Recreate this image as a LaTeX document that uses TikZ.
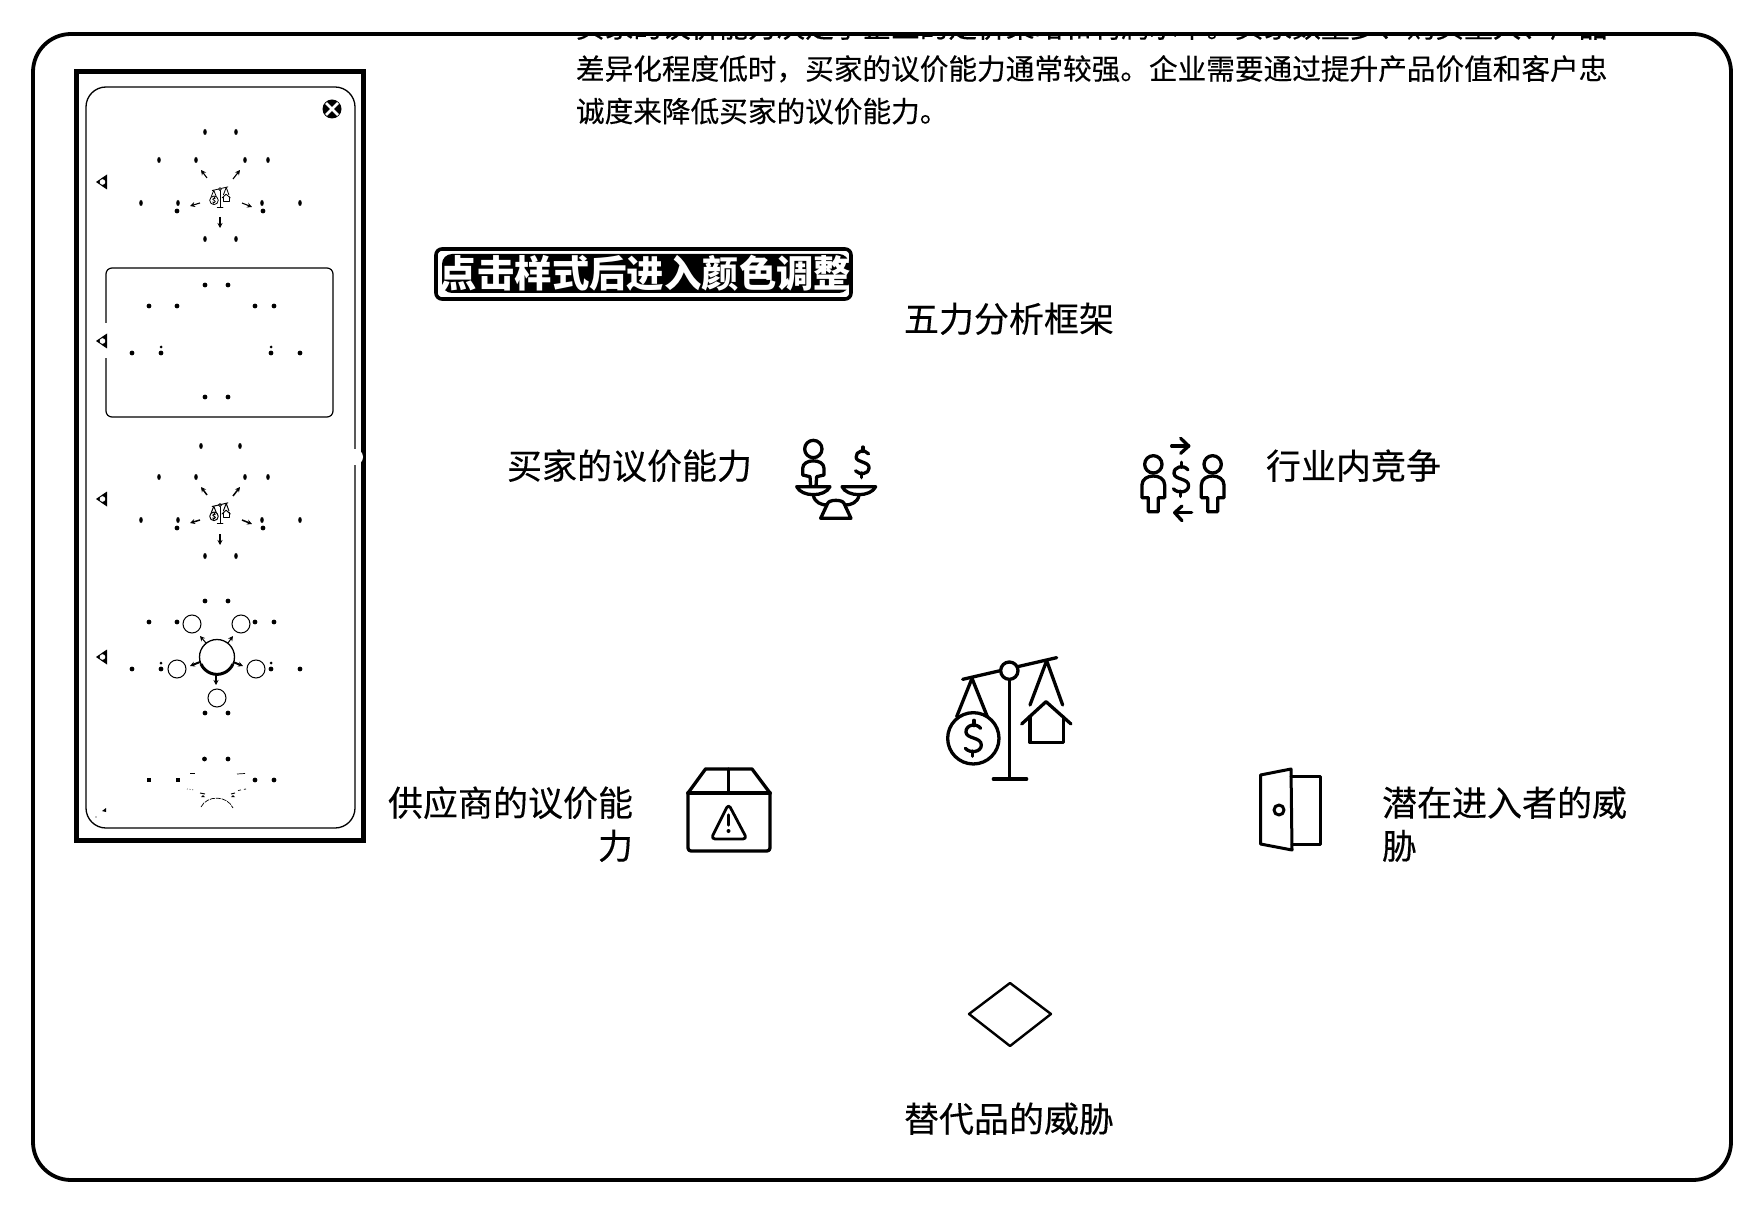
\documentclass[tikz,border=0pt]{standalone}
\usepackage{fontspec}
\setmainfont{Noto Sans CJK SC}[FakeBold=0.25]
\newfontfamily\tagfont{Noto Sans CJK SC}
\usetikzlibrary{arrows.meta}
\tikzset{
  lab/.style={inner sep=0pt,outer sep=0pt,font=\fontsize{35}{42}\selectfont},
  body/.style={inner sep=0pt,outer sep=0pt,font=\fontsize{28.65}{34}\selectfont},
  icon/.style={line width=3.3pt,line cap=round,line join=round},
  parr/.style={-{Stealth[length=5pt,width=5pt]},line width=1.1pt},
}
% balance icon in the coordinates of its large drawing
\newcommand{\dollarat}[3]{%
  \begin{scope}[shift={(#1,#2)},scale=#3]
    \draw (22,-30) .. controls (8,-48) and (-24,-40) .. (-22,-18)
      .. controls (-20,2) and (24,-4) .. (24,20)
      .. controls (24,42) and (-10,46) .. (-24,30);
    \draw (2,-54) -- (2,-38);
    \draw (-2,38) -- (-2,54);
  \end{scope}}
\newcommand{\balance}{%
  \draw (548,778) -- (830,713);
  \draw (688,778) -- (688,1075);
  \draw (640,1077) -- (740,1077);
  \draw[fill=white] (688,752) circle (26);
  \draw (530,890) -- (576,775) -- (622,890);
  \draw (750,855) -- (800,722) -- (848,855);
  \draw (580,955) circle (77);
  \dollarat{580}{955}{1}
  \draw (725,912) -- (798,845) -- (873,912);
  \draw (750,890) -- (750,968) -- (850,968) -- (850,890);}
\newcommand{\person}[2]{%
  \begin{scope}[shift={(#1,#2)}]
    \draw (0,0) circle (26);
    \draw (-15,142) -- (-15,100) -- (-34,100) -- (-34,62)
       .. controls (-34,26) and (34,26) .. (34,62) -- (34,100) -- (15,100) -- (15,142) -- cycle;
  \end{scope}}
\newcommand{\parens}[3]{%
  \fill (#1,#3) ellipse (1.8 and 3);
  \fill (#2,#3) ellipse (1.8 and 3);}
\newcommand{\sidetri}[1]{%
  \fill (96,#1) -- (107,#1-7.5) -- (107,#1+7.5) -- cycle;
  \fill[white] (102.5,#1) circle (2.8);}
\newcommand{\thumbdots}[1]{%
  \foreach \px/\py in {205/285,228/285,149/306,177/306,255/306,274/306,132/353,161/353,271/353,300/353,205/397,228/397}
    {\fill (\px,\py+#1) circle (2.4);}
  \fill (161,347+#1) circle (1.5);
  \fill (271,347+#1) circle (1.5);}
\newcommand{\thumbicon}[2]{%
  \begin{scope}[shift={(220,#1)},scale=1/18,shift={(-688,-895)},line width=#2,line cap=round,line join=round]
    \balance
  \end{scope}}
\newcommand{\thumbmarks}[1]{%
  \parens{159}{196}{160+#1}
  \parens{245}{268}{160+#1}
  \parens{141}{178}{203+#1}
  \parens{262}{300}{203+#1}
  \parens{205}{236}{239+#1}
  \fill (177,211+#1) circle (2.4);
  \fill (263,211+#1) circle (2.4);}
\begin{document}
\begin{tikzpicture}[x=1pt,y=-1pt]
\useasboundingbox (0,0) rectangle (1764,1214);
\fill[white] (0,0) rectangle (1764,1214);

% clipped paragraph in the card
\begin{scope}
  \clip (40,34) rectangle (1725,300);
  \node[body,anchor=base west] (para1) at (576,37.5) {买家的议价能力决定了企业的定价策略和利润水平。买家数量多、购买量大、产品};
\end{scope}
\node[body,anchor=base west] (para2) at (576,79.5) {差异化程度低时，买家的议价能力通常较强。企业需要通过提升产品价值和客户忠};
\node[body,anchor=base west] (para3) at (576,122) {诚度来降低买家的议价能力。};

% card frame
\draw[line width=3.8pt,rounded corners=38pt] (33,34) rectangle (1731,1180);

% style panel
\draw[line width=5pt] (76,72) rectangle (363,840);
\draw[line width=1.3pt,rounded corners=20pt] (86,87) rectangle (355,828);
\fill[white] (355,457) circle (8);
\draw[line width=1.2pt,rounded corners=6pt] (106,268) rectangle (333,417);
\fill[white] (100,323) rectangle (110,358);
\fill (332,109) circle (9.5);
\draw[white,line width=2.6pt] (326,103) -- (338,115) (338,103) -- (326,115);
\sidetri{182}\sidetri{341}\sidetri{499}\sidetri{657}

% thumbnail 1
\parens{205}{236}{132}
\thumbmarks{0}
\thumbicon{197}{0.8pt}
\draw[parr] (207,178) -- (201,170);
\draw[parr] (233,179) -- (240,170);
\draw[parr] (200,203) -- (190,206);
\draw[parr] (242,203) -- (252,207);
\draw[parr] (220,217) -- (220,228);

% thumbnail 2
\thumbdots{0}

% thumbnail 3
\parens{201}{240}{446}
\thumbmarks{317}
\thumbicon{513}{1pt}
\draw[parr,line width=1.5pt] (207,495) -- (201,487);
\draw[parr,line width=1.5pt] (233,496) -- (240,487);
\draw[parr,line width=1.5pt] (200,520) -- (190,523);
\draw[parr,line width=1.5pt] (242,520) -- (252,524);
\draw[parr,line width=1.5pt] (220,534) -- (220,545);

% thumbnail 4
\thumbdots{316}
\draw[line width=1pt] (192,624) circle (9);
\draw[line width=1pt] (241,624) circle (9);
\draw[line width=1pt] (177,669) circle (9);
\draw[line width=1pt] (256,669) circle (9);
\draw[line width=1pt] (217,698) circle (9);
\draw[line width=1.3pt] (217,657) circle (17.5);
\draw[line width=3pt] (201,664) arc[start angle=156,end angle=24,radius=17.5];
\draw[parr,line width=1pt] (206,643) -- (200,636);
\draw[parr,line width=1pt] (228,643) -- (233,636);
\draw[parr,line width=2pt] (200,662) -- (190,666);
\draw[parr,line width=2pt] (233,662) -- (243,666);
\draw[parr,line width=2pt] (216,674) -- (216,685);

% thumbnail 5, fading out
\fill (204.5,759) circle (2.4);
\fill (228,759) circle (2.4);
\fill (147,778) rectangle (151,782);
\fill (176,778) rectangle (180,782);
\fill (255,780) circle (2.4);
\fill (274,780) circle (2.4);
\draw[line width=.7pt] (190,773.5) -- (195,773.5);
\draw[line width=.7pt] (237,774) -- (245,773.5);
\draw[line width=.7pt,dotted] (187,789) -- (195,790);
\draw[line width=.7pt,dashed] (238,790.5) -- (246,789);
\draw[line width=.7pt,dash pattern=on 5pt off 1pt] (201,807) .. controls (207,795) and (227,795) .. (233,808);
\draw[line width=.9pt] (200,793) -- (205,794) (231,794) -- (235,793);
\fill (205,797) -- (201,797) -- (203,795) -- cycle;
\fill (235,797) -- (231,797) -- (233,795) -- cycle;
\fill (106,808) -- (102,811) -- (106,812) -- cycle;
\fill (96,817) circle (.6);

% hint tag
\draw[line width=3.6pt,rounded corners=6pt] (436,249) rectangle (851,299);
\fill[rounded corners=10pt] (442,254) rectangle (849,293);
\node[inner sep=0pt,text=white,font=\tagfont\bfseries\fontsize{37.4}{40}\selectfont,anchor=center] (hint) at (645.5,273.5) {点击样式后进入颜色调整};

% labels
\node[lab,anchor=base] (title) at (1009,332) {五力分析框架};
\node[lab,anchor=base east] (buyer) at (752,479) {买家的议价能力};
\node[lab,anchor=base west] (rivalry) at (1266,479) {行业内竞争};
\node[lab,anchor=base east] (supplier1) at (633,816) {供应商的议价能};
\node[lab,anchor=base east] (supplier2) at (633,859) {力};
\node[lab,anchor=base west] (entrant1) at (1382,816) {潜在进入者的威};
\node[lab,anchor=base west] (entrant2) at (1382,859) {胁};
\node[lab,anchor=base] (subst) at (1009,1132) {替代品的威胁};

% icons drawn in the coordinates of one group
\begin{scope}[shift={(780,420)},scale=1/3,icon]
  \balance
  % buyer scale
  \draw (100,87) circle (26);
  \draw (92,198) -- (90,170) -- (68,165) -- (68,145)
     .. controls (68,115) and (132,115) .. (132,145) -- (132,165) -- (110,170) -- (108,198);
  \draw (50,200) -- (150,200) .. controls (135,232) and (65,232) .. (50,200) -- cycle;
  \draw (186,200) -- (287,200) .. controls (272,232) and (201,232) .. (186,200) -- cycle;
  \draw (122,295) -- (143,250) .. controls (148,238) and (187,238) .. (192,250) -- (213,295) -- cycle;
  \draw (100,226) .. controls (104,248) and (125,255) .. (140,255);
  \draw (237,226) .. controls (233,248) and (212,255) .. (197,255);
  \dollarat{247}{127}{.85}
  % rivalry
  \person{1120}{133}
  \person{1298}{133}
  \dollarat{1203}{178}{.95}
  \draw (1175,78) -- (1226,78);
  \draw (1202,55) -- (1226,78) -- (1202,100);
  \draw (1235,278) -- (1184,278);
  \draw (1206,258) -- (1184,278) -- (1206,302);
\end{scope}

% supplier box
\begin{scope}[icon]
  \draw (688,793) -- (705.5,769) -- (752,769) -- (770,793);
  \draw (728.5,769) -- (728.5,793);
  \draw[line width=3.8pt] (688,793) -- (770,793);
  \draw[rounded corners=3pt] (688,793) -- (688,851) -- (770,851) -- (770,793);
  \draw[rounded corners=4pt,line width=2.8pt] (728.5,804) -- (711,839) -- (747,839) -- cycle;
  \draw (728.5,815) -- (728.5,825);
  \fill (728.5,831) circle (2);
\end{scope}

% door
\begin{scope}[line width=3pt,line join=round,line cap=round]
  \draw (1260.5,775) -- (1291,769) -- (1292,850) -- (1260.5,844) -- cycle;
  \draw (1291,776) -- (1320,776) -- (1320,844) -- (1292,844);
  \draw (1279,810) circle (5);
\end{scope}

% diamond
\draw[line width=2.4pt,line join=round] (1010,983) -- (1051,1014) -- (1010,1046) -- (969,1014) -- cycle;
\end{tikzpicture}
\end{document}
